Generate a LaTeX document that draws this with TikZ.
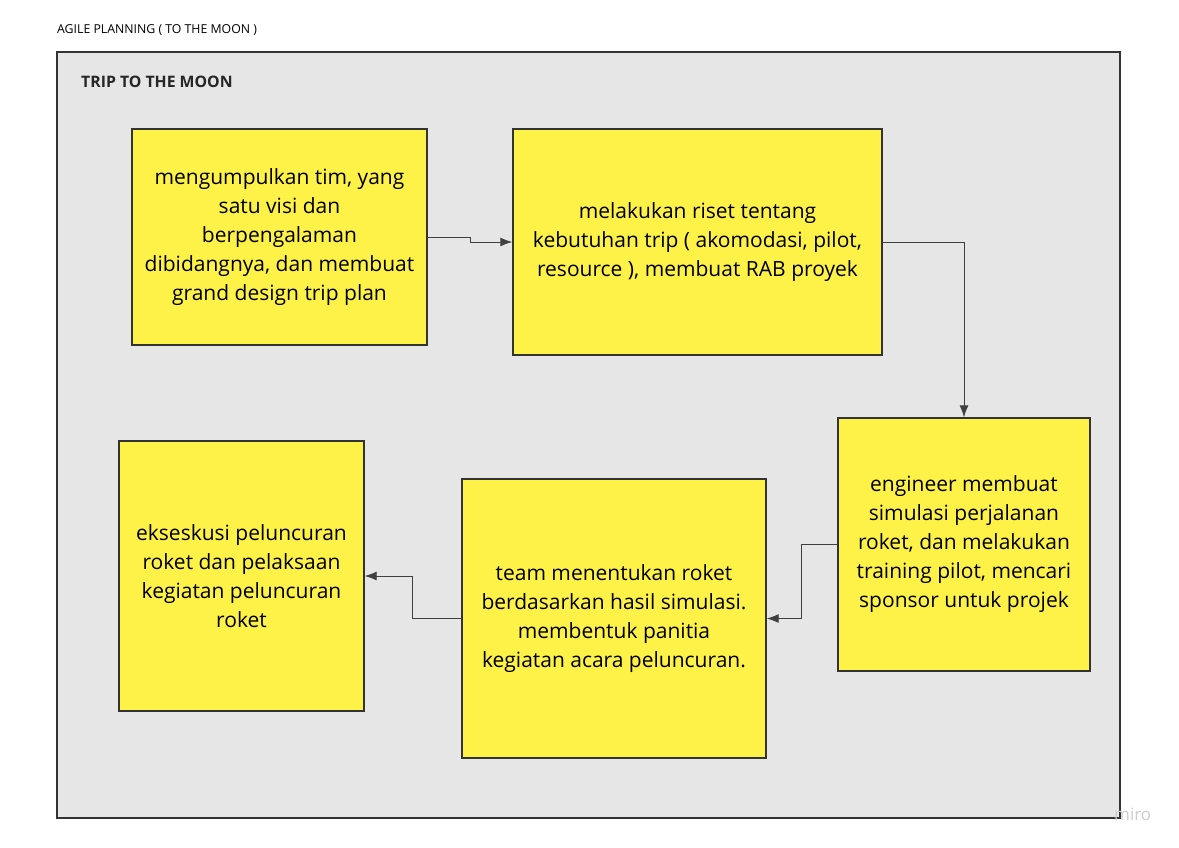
\documentclass[tikz,border=0pt]{standalone}
\usepackage{fontspec}
\setmainfont{Open Sans}
\usetikzlibrary{arrows.meta}
\definecolor{sticky}{HTML}{FEF248}
\definecolor{board}{HTML}{E6E6E6}
\begin{document}
\begin{tikzpicture}
  [
    x=1pt, y=-1pt,
    task/.style={draw=black!80, line width=1.4pt, fill=sticky, align=center,
      inner sep=0pt, font=\fontsize{21}{29}\selectfont},
    flow/.style={draw=black!75, line width=0.9pt, -{Latex[length=12pt,width=9pt]}}
  ]
  \useasboundingbox (0,0) rectangle (1179,847);
  % board
  \node [anchor=base west, inner sep=0pt, font=\fontsize{12.3}{14}\selectfont] (title) at (57,33) {AGILE PLANNING ( TO THE MOON )};
  \draw [fill=board, draw=black!80, line width=1.4pt] (57,52) rectangle (1120,818);
  \node [anchor=base west, inner sep=0pt, font=\bfseries\fontsize{15.8}{18}\selectfont, text=black!85] (board) at (81,87) {TRIP TO THE MOON};
  \node [anchor=base west, inner sep=0pt, font=\fontsize{17}{20}\selectfont, text=black!20] (miro) at (1114,820) {miro};
  % tasks
  \node [task, minimum width=295pt, minimum height=216pt] (team) at (279.5,237)
    {mengumpulkan tim, yang\\satu visi dan\\berpengalaman\\dibidangnya, dan membuat\\grand design trip plan};
  \node [task, minimum width=369pt, minimum height=226pt] (riset) at (697.5,242)
    {melakukan riset tentang\\kebutuhan trip ( akomodasi, pilot,\\resource ), membuat RAB proyek};
  \node [task, minimum width=252pt, minimum height=253pt] (sim) at (964,544.5)
    {engineer membuat\\simulasi perjalanan\\roket, dan melakukan\\training pilot, mencari\\sponsor untuk projek};
  \node [task, minimum width=304pt, minimum height=279pt] (roket) at (614,618.5)
    {team menentukan roket\\berdasarkan hasil simulasi.\\membentuk panitia\\kegiatan acara peluncuran.};
  \node [task, minimum width=245pt, minimum height=270pt] (launch) at (241.5,576)
    {ekseskusi peluncuran\\roket dan pelaksaan\\kegiatan peluncuran\\roket};
  % flow
  \draw [flow] (team.east) -- ++(43,0) |- (riset.west);
  \draw [flow] (riset.east) -| (sim.north);
  \draw [flow] (sim.west) -- ++(-36,0) |- (roket.east);
  \draw [flow] (roket.west) -- ++(-49,0) |- (launch.east);
\end{tikzpicture}
\end{document}
